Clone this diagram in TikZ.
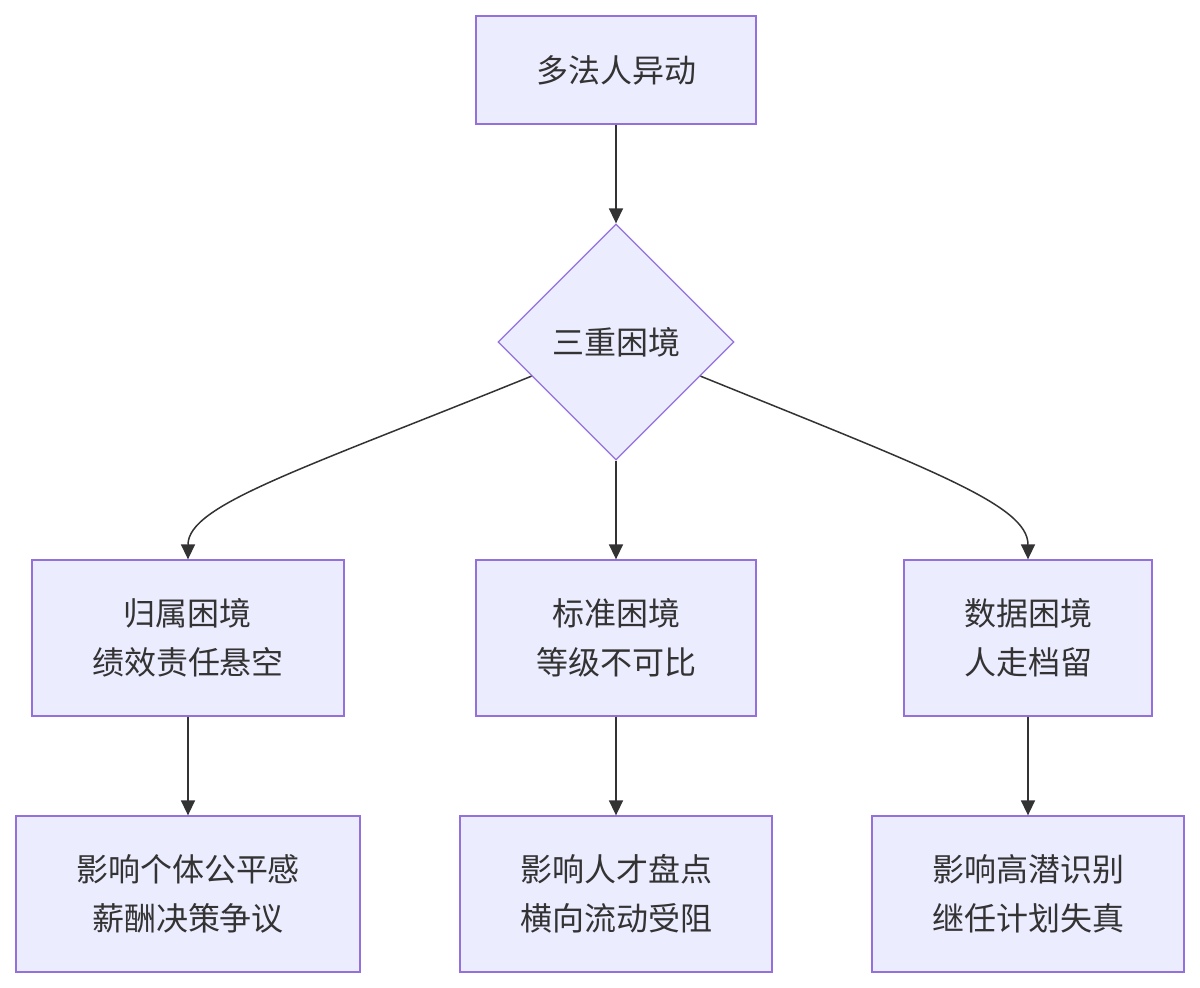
\documentclass[tikz,border=0pt]{standalone}
\usepackage{fontspec}
\newfontfamily\cjk{Noto Sans CJK SC}
\usetikzlibrary{shapes.geometric,arrows.meta}
\definecolor{nfill}{HTML}{ECECFF}
\definecolor{nline}{HTML}{9370DB}
\definecolor{ink}{HTML}{333333}
\begin{document}
\begin{tikzpicture}[x=1pt,y=-1pt,
  box/.style={draw=nline,fill=nfill,line width=1.3pt,inner sep=0pt,align=center,
    font=\cjk\fontsize{32}{49}\selectfont,text=ink},
  dia/.style={diamond,draw=nline,fill=nfill,line width=1.3pt,inner sep=0pt,
    minimum width=236pt,minimum height=236pt,font=\cjk\fontsize{32}{49}\selectfont,text=ink},
  conn/.style={draw=ink,line width=1.5pt,-{Triangle[length=15pt,width=14pt]}}]
\useasboundingbox (0,0) rectangle (1200,988);
\fill[white] (0,0) rectangle (1200,988);
\node[box,minimum width=280pt,minimum height=108pt] (top) at (616,70) {多法人异动};
\node[dia] (d) at (616,342) {三重困境};
\node[box,minimum width=312pt,minimum height=156pt] (l1) at (188,638) {归属困境\\绩效责任悬空};
\node[box,minimum width=280pt,minimum height=156pt] (m1) at (616,638) {标准困境\\等级不可比};
\node[box,minimum width=248pt,minimum height=156pt] (r1) at (1028,638) {数据困境\\人走档留};
\node[box,minimum width=344pt,minimum height=156pt] (l2) at (188,894) {影响个体公平感\\薪酬决策争议};
\node[box,minimum width=312pt,minimum height=156pt] (m2) at (616,894) {影响人才盘点\\横向流动受阻};
\node[box,minimum width=312pt,minimum height=156pt] (r2) at (1028,894) {影响高潜识别\\继任计划失真};
\draw[conn] (top.south) -- (d.north);
\draw[conn] (d.south) -- (m1.north);
\draw[conn] (d.202) .. controls (300,470) and (188,505) .. (l1.north);
\draw[conn] (d.338) .. controls (932,470) and (1028,505) .. (r1.north);
\draw[conn] (l1.south) -- (l2.north);
\draw[conn] (m1.south) -- (m2.north);
\draw[conn] (r1.south) -- (r2.north);
\end{tikzpicture}
\end{document}
